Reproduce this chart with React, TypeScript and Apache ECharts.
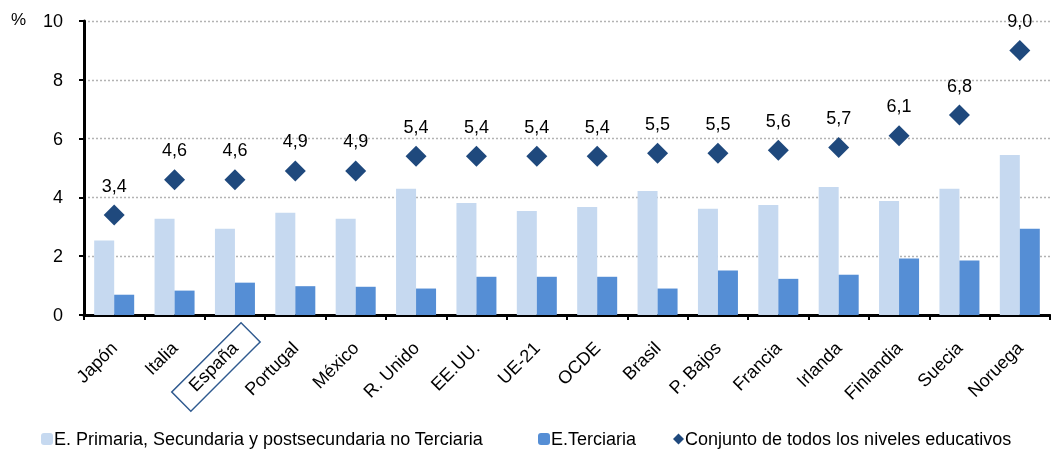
import React, { useEffect, useRef } from "react";
import * as echarts from "echarts";

const categories = ["Japón", "Italia", "España", "Portugal", "México", "R. Unido", "EE.UU.", "UE-21", "OCDE", "Brasil", "P. Bajos", "Francia", "Irlanda", "Finlandia", "Suecia", "Noruega"];
const primariaValues = [2.53, 3.27, 2.93, 3.48, 3.27, 4.29, 3.81, 3.54, 3.67, 4.22, 3.61, 3.74, 4.35, 3.88, 4.29, 5.44];
const terciariaValues = [0.69, 0.83, 1.1, 0.98, 0.96, 0.9, 1.3, 1.3, 1.3, 0.9, 1.51, 1.23, 1.37, 1.92, 1.85, 2.93];
const conjuntoValues = [3.4, 4.6, 4.6, 4.9, 4.9, 5.4, 5.4, 5.4, 5.4, 5.5, 5.5, 5.6, 5.7, 6.1, 6.8, 9.0];
const yTicks = { min: 0, max: 10, interval: 2 };
const seriesNames = [
  "E. Primaria, Secundaria y postsecundaria no Terciaria",
  "E.Terciaria",
  "Conjunto de todos los niveles educativos",
];
const highlighted = "España";

const FONT = "'Liberation Sans', Arial, sans-serif";

export default function App() {
  const ref = useRef<HTMLDivElement>(null);
  useEffect(() => {
    if (!ref.current) return;
    const chart = echarts.init(ref.current, null, { renderer: "svg" });
    const pct = { type: "text", left: 11, top: 11, style: { text: "%", fontSize: 17, fill: "#000", fontFamily: FONT } };
    const option: any = {
      animation: false,
      textStyle: { fontFamily: FONT },
      grid: { left: 84, right: 1, top: 21, bottom: 134, containLabel: false },
      legend: [
        {
          data: [seriesNames[0]], left: 36, top: 425, itemWidth: 12, itemHeight: 12, itemGap: 0,
          textStyle: { fontSize: 18, color: "#000", fontFamily: FONT, padding: [0, 0, 0, -4] },
        },
        {
          data: [seriesNames[1]], left: 533, top: 425, itemWidth: 12, itemHeight: 12,
          textStyle: { fontSize: 18, color: "#000", fontFamily: FONT, padding: [0, 0, 0, -4] },
        },
        {
          data: [{ name: seriesNames[2], icon: "diamond" }], left: 668, top: 425, itemWidth: 11, itemHeight: 11,
          textStyle: { fontSize: 18, color: "#000", fontFamily: FONT, padding: [0, 0, 0, -4] },
        },
      ],
      xAxis: {
        type: "category",
        data: categories,
        axisLine: { lineStyle: { color: "#000", width: 3 } },
        axisTick: { show: true, length: 5, lineStyle: { color: "#000", width: 2 } },
        axisLabel: { rotate: 45, fontSize: 18, color: "#000", margin: 30, fontFamily: FONT, interval: 0 },
      },
      yAxis: {
        type: "value",
        min: yTicks.min,
        max: yTicks.max,
        interval: yTicks.interval,
        axisLine: { show: true, lineStyle: { color: "#000", width: 3 } },
        axisTick: { show: true, length: 5, lineStyle: { color: "#000", width: 2 } },
        axisLabel: { fontSize: 18, color: "#000", margin: 21, fontFamily: FONT },
        splitLine: { show: true, lineStyle: { color: "#b3b3b3", type: [2, 2], width: 1.3 } },
      },
      series: [
        {
          name: seriesNames[0], type: "bar", data: primariaValues, barWidth: 20, barGap: "0%",
          itemStyle: { color: "#C6D9F0" },
        },
        {
          name: seriesNames[1], type: "bar", data: terciariaValues, barWidth: 20,
          itemStyle: { color: "#558ED5" },
        },
        {
          name: seriesNames[2], type: "scatter", data: conjuntoValues, symbol: "diamond", symbolSize: 21,
          itemStyle: { color: "#1F497D", opacity: 1 },
          label: {
            show: true, position: "top", distance: 10, fontSize: 18, color: "#000", fontFamily: FONT,
            formatter: (p: any) => Number(p.value).toFixed(1).replace(".", ","),
          },
        },
      ],
      graphic: [pct],
    };
    chart.setOption(option);
    const px = chart.convertToPixel({ xAxisIndex: 0 }, highlighted) as number;
    const py = chart.convertToPixel({ yAxisIndex: 0 }, 0) as number;
    chart.setOption({
      graphic: [
        pct,
        {
          type: "rect",
          x: px - 19,
          y: py + 52,
          rotation: Math.PI / 4,
          shape: { x: -49, y: -13.5, width: 98, height: 27 },
          style: { fill: "none", stroke: "#2F5A8F", lineWidth: 1.5 },
        },
      ],
    });
    return () => chart.dispose();
  }, []);
  return <div ref={ref} style={{ position: "fixed", left: 0, top: 0, width: 1051, height: 449 }} />;
}
